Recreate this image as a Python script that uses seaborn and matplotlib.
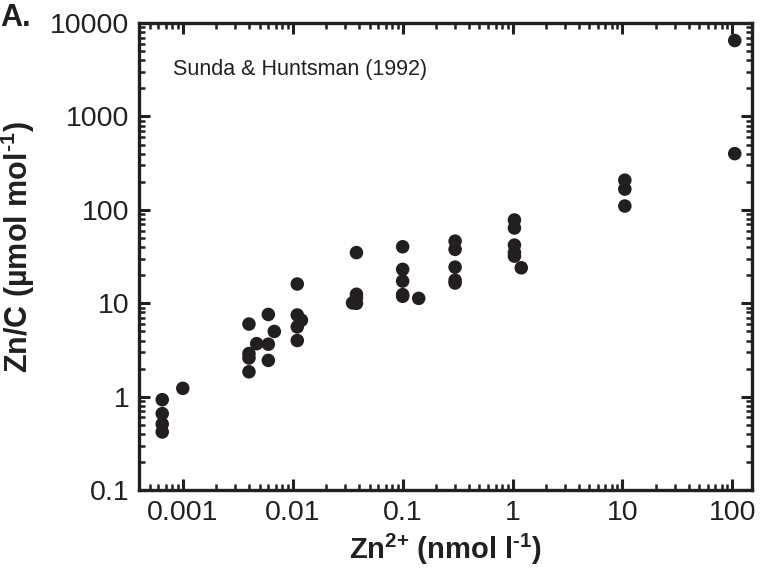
import numpy as np
import pandas as pd
import matplotlib
matplotlib.use("Agg")
import matplotlib.pyplot as plt
import seaborn as sns
from matplotlib.ticker import LogLocator, FixedLocator, FixedFormatter, NullFormatter

sns.set_theme(style="ticks")
plt.rcParams['font.family'] = ['Liberation Sans', 'DejaVu Sans']
plt.rcParams['mathtext.fontset'] = 'custom'
plt.rcParams['mathtext.rm'] = 'Liberation Sans'
plt.rcParams['mathtext.bf'] = 'Liberation Sans:bold'
plt.rcParams['mathtext.it'] = 'Liberation Sans:bold'

# Data (Zn2+ in nmol/l, Zn/C in umol/mol)
zn_free = [0.00065, 0.00065, 0.00065, 0.00065,
           0.001,
           0.004, 0.004, 0.004, 0.004,
           0.0047,
           0.006, 0.006, 0.006,
           0.0068,
           0.011, 0.011, 0.011, 0.011,
           0.012,
           0.035,
           0.038, 0.038, 0.038, 0.038,
           0.1, 0.1, 0.1, 0.1, 0.1,
           0.14,
           0.3, 0.3, 0.3, 0.3, 0.3,
           1.04, 1.04, 1.04, 1.04, 1.04,
           1.2,
           10.5, 10.5, 10.5,
           105, 105]
zn_c = [0.93, 0.66, 0.51, 0.42,
        1.23,
        6.0, 2.9, 2.6, 1.85,
        3.7,
        7.6, 3.65, 2.45,
        5.0,
        16.1, 7.5, 5.6, 4.0,
        6.6,
        10.1,
        34.9, 12.5, 11.5, 10.0,
        40.3, 23.1, 17.3, 12.4, 11.9,
        11.3,
        46.3, 37.8, 24.4, 17.7, 16.5,
        78, 64, 42, 35, 32,
        24,
        208, 167, 110,
        6500, 400]

x_ticks = [0.001, 0.01, 0.1, 1, 10, 100]
x_tick_labels = ["0.001", "0.01", "0.1", "1", "10", "100"]
y_ticks = [0.1, 1, 10, 100, 1000, 10000]
y_tick_labels = ["0.1", "1", "10", "100", "1000", "10000"]

df = pd.DataFrame({"zn": zn_free, "znc": zn_c})

fig = plt.figure(figsize=(7.64, 5.76), dpi=100)
ax = fig.add_axes([0.182, 0.149, 0.802, 0.811])

sns.scatterplot(data=df, x="zn", y="znc", ax=ax, color="#231f20",
                s=95, linewidth=0, edgecolor="none", legend=False)

ax.set_xscale("log")
ax.set_yscale("log")
ax.set_xlim(4e-4, 150)
ax.set_ylim(0.1, 10000)

ax.xaxis.set_major_locator(FixedLocator(x_ticks))
ax.xaxis.set_major_formatter(FixedFormatter(x_tick_labels))
ax.yaxis.set_major_locator(FixedLocator(y_ticks))
ax.yaxis.set_major_formatter(FixedFormatter(y_tick_labels))
ax.xaxis.set_minor_locator(LogLocator(base=10, subs=np.arange(2, 10), numticks=20))
ax.yaxis.set_minor_locator(LogLocator(base=10, subs=np.arange(2, 10), numticks=20))
ax.xaxis.set_minor_formatter(NullFormatter())
ax.yaxis.set_minor_formatter(NullFormatter())

ax.tick_params(which="both", direction="in", top=True, right=True,
               color="#231f20", labelcolor="#231f20")
ax.tick_params(which="major", length=8, width=2.2, labelsize=20.5, pad=7)
ax.tick_params(which="minor", length=4.5, width=1.8)
for sp in ax.spines.values():
    sp.set_linewidth(2.4)
    sp.set_color("#231f20")

ax.set_xlabel("Zn$^{\\mathbf{2{+}}}$ (nmol l$^{\\mathbf{\u20101}}$)", fontsize=21,
              fontweight="bold", color="#231f20", labelpad=4)
ax.set_ylabel("Zn/C (µmol mol$^{\\mathbf{\u20101}}$)", fontsize=22,
              fontweight="bold", color="#231f20")
ax.yaxis.set_label_coords(-0.166, 0.52)

ax.text(0.055, 0.9, "Sunda & Huntsman (1992)", transform=ax.transAxes,
        fontsize=15.5, color="#231f20", va="center", ha="left")
fig.text(0.0, 0.968, "A.", fontsize=22, fontweight="bold", color="#231f20",
         va="center", ha="left")

fig.savefig("out.png", dpi=100)
